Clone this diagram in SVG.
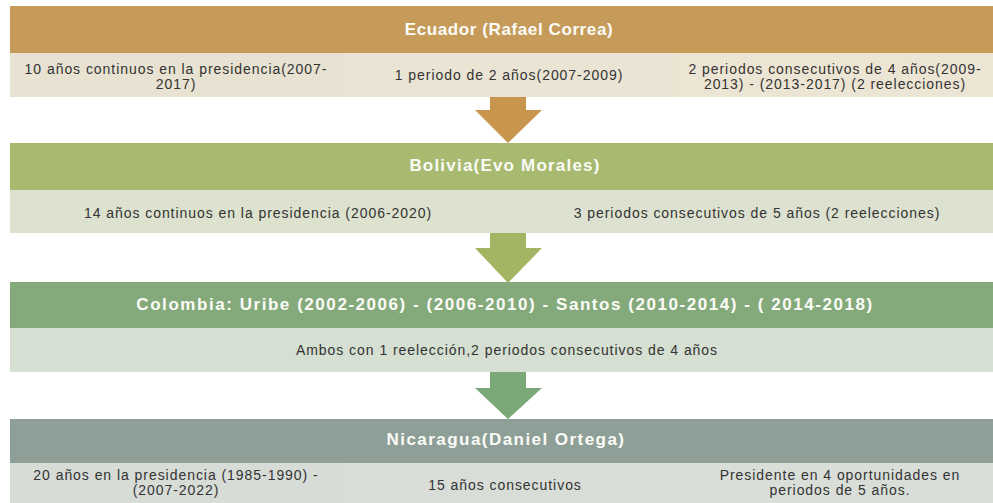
<svg xmlns="http://www.w3.org/2000/svg" width="993" height="503" viewBox="0 0 993 503">
<style>
.h{font-family:"Liberation Sans",Arial,sans-serif;font-weight:bold;font-size:17px;fill:#fbfbf7;text-anchor:middle;letter-spacing:1.3px}
.t{font-family:"Liberation Sans",Arial,sans-serif;font-size:14px;fill:#333333;text-anchor:middle;letter-spacing:0.95px}
</style>
<rect x="0" y="0" width="993" height="503" fill="#ffffff"/>
<g id="connectors">
<polygon points="490,97 526,97 526,110 542,110 508,143 475,110 490,110" fill="#C8954F"/>
<polygon points="490,233 526,233 526,248 542,248 508,283 475,248 490,248" fill="#A2B562"/>
<polygon points="490,372 526,372 526,388 542,388 508,419 475,388 490,388" fill="#7AA876"/>
</g>
<g id="ecuador">
<rect x="10" y="6" width="983" height="47" fill="#C69B5A"/>
<rect x="10" y="53" width="333" height="44" fill="#E7E2D1"/>
<rect x="343" y="53" width="330" height="44" fill="#E9E4D4"/>
<rect x="673" y="53" width="320" height="44" fill="#EDE5D3"/>
<text class="h" x="509" y="35" style="letter-spacing:0.6px">Ecuador (Rafael Correa)</text>
<text class="t" x="176" y="74">10 años continuos en la presidencia(2007-</text>
<text class="t" x="176" y="89">2017)</text>
<text class="t" x="509" y="80">1 periodo de 2 años(2007-2009)</text>
<text class="t" x="835" y="74">2 periodos consecutivos de 4 años(2009-</text>
<text class="t" x="835" y="89">2013) - (2013-2017) (2 reelecciones)</text>
</g>
<g id="bolivia">
<rect x="10" y="143" width="983" height="47" fill="#A7BA70"/>
<rect x="10" y="190" width="498" height="43" fill="#DCE2CE"/>
<rect x="508" y="190" width="485" height="43" fill="#DDE2D0"/>
<text class="h" x="505" y="171" style="letter-spacing:1.2px">Bolivia(Evo Morales)</text>
<text class="t" x="258" y="218">14 años continuos en la presidencia (2006-2020)</text>
<text class="t" x="757" y="218">3 periodos consecutivos de 5 años (2 reelecciones)</text>
</g>
<g id="colombia">
<rect x="10" y="282" width="983" height="46" fill="#84AA7B"/>
<rect x="10" y="328" width="983" height="44" fill="#D5DFD2"/>
<text class="h" x="505" y="310" style="letter-spacing:1.55px">Colombia: Uribe (2002-2006) - (2006-2010) - Santos (2010-2014) - ( 2014-2018)</text>
<text class="t" x="507" y="355">Ambos con 1 reelección,2 periodos consecutivos de 4 años</text>
</g>
<g id="nicaragua">
<rect x="10" y="419" width="983" height="44" fill="#8E9F97"/>
<rect x="10" y="463" width="333" height="40" fill="#D7DCD7"/>
<rect x="343" y="463" width="330" height="40" fill="#D8DDD8"/>
<rect x="673" y="463" width="320" height="40" fill="#D9DED9"/>
<text class="h" x="506" y="445" style="letter-spacing:1.45px">Nicaragua(Daniel Ortega)</text>
<text class="t" x="176" y="480">20 años en la presidencia (1985-1990) -</text>
<text class="t" x="176" y="495">(2007-2022)</text>
<text class="t" x="505" y="490">15 años consecutivos</text>
<text class="t" x="840" y="480">Presidente en 4 oportunidades en</text>
<text class="t" x="840" y="495">periodos de 5 años.</text>
</g>
</svg>
